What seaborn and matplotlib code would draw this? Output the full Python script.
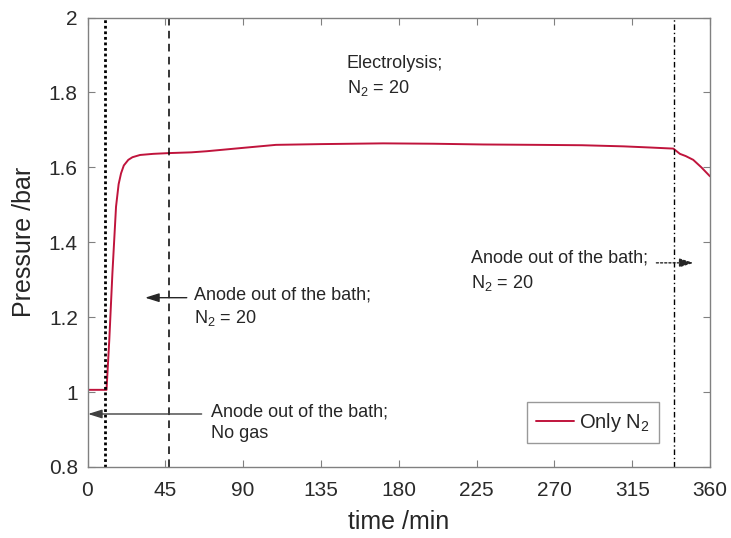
import matplotlib
matplotlib.use("Agg")
import matplotlib.pyplot as plt
import seaborn as sns
import pandas as pd
from matplotlib.ticker import FuncFormatter

# Pressure record of the cell (time in minutes, pressure in bar)
time_min = [0, 10.1, 11.0, 12.6, 14.4, 16.5, 18.0, 19.4, 21.0, 23.6, 26.0,
            30.4, 38, 47, 60, 69, 90, 109, 135, 171, 200, 229, 260, 286, 310,
            325, 338.8, 342.6, 346, 350.3, 355, 360]
pressure_bar = [1.006, 1.006, 1.006, 1.139, 1.317, 1.495, 1.555, 1.584, 1.605,
                1.620, 1.627, 1.633, 1.636, 1.638, 1.640, 1.643, 1.652, 1.660,
                1.662, 1.664, 1.663, 1.661, 1.660, 1.659, 1.656, 1.653, 1.650,
                1.636, 1.630, 1.620, 1.600, 1.576]
series_label = "Only N$_2$"

# Event markers (minutes)
gas_off_time = 10
anode_out_time = 47
anode_out2_time = 339

x_ticks = [0, 45, 90, 135, 180, 225, 270, 315, 360]
y_ticks = [0.8, 1.0, 1.2, 1.4, 1.6, 1.8, 2.0]

sns.set_theme(style="white")
plt.rcParams["font.family"] = ["Liberation Sans", "DejaVu Sans"]
plt.rcParams["mathtext.fontset"] = "custom"
plt.rcParams["mathtext.rm"] = "Liberation Sans"
plt.rcParams["mathtext.it"] = "Liberation Sans:italic"
plt.rcParams["mathtext.default"] = "regular"

df = pd.DataFrame({"time": time_min, "pressure": pressure_bar})

fig = plt.figure(figsize=(7.31, 5.38), dpi=100)
ax = fig.add_axes([87.5 / 731, (538 - 467) / 538, 622.5 / 731, (467 - 17.5) / 538])

sns.lineplot(data=df, x="time", y="pressure", ax=ax, color="#C0143C",
             linewidth=1.4, label=series_label)

ax.axvline(gas_off_time, color="black", linestyle=(0, (1, 1)), linewidth=2.0)
ax.axvline(anode_out_time, color="black", linestyle=(0, (5, 3.5)), linewidth=1.1)
ax.axvline(anode_out2_time, color="black", linestyle=(0, (4, 2, 1, 2)), linewidth=1.0)

ax.set_xlim(0, 360)
ax.set_ylim(0.8, 2.0)
ax.set_xticks(x_ticks)
ax.set_yticks(y_ticks)
ax.yaxis.set_major_formatter(FuncFormatter(lambda v, _: f"{v:g}"))
ax.tick_params(direction="in", length=5, width=0.8, color="#808080",
               labelsize=15, labelcolor="#2a2a2a", top=True, right=True,
               left=True, bottom=True)
ax.tick_params(axis="x", pad=10)
ax.tick_params(axis="y", pad=7)
for sp in ax.spines.values():
    sp.set_color("#808080")
    sp.set_linewidth(1.0)

ax.set_xlabel("time /min", fontsize=18, color="#262626", labelpad=7)
ax.set_ylabel("Pressure /bar", fontsize=18, color="#262626", labelpad=9)

txt = dict(fontsize=13, color="#262626", va="center", ha="left")

# Annotations
ax.text(149.9, 1.878, "Electrolysis;", **txt)
ax.text(149.9, 1.811, "N$_2$ = 20", **txt)

ax.annotate("", xy=(33.3, 1.252), xytext=(57.4, 1.252),
            arrowprops=dict(arrowstyle="-|>,head_length=0.7,head_width=0.22",
                            color="#262626", lw=1.0, shrinkA=0, shrinkB=0))
ax.text(61.8, 1.259, "Anode out of the bath;", **txt)
ax.text(61.8, 1.198, "N$_2$ = 20", **txt)

ax.annotate("", xy=(0.3, 0.9415), xytext=(66.0, 0.9415),
            arrowprops=dict(arrowstyle="-|>,head_length=0.7,head_width=0.22",
                            color="#404040", lw=1.0, shrinkA=0, shrinkB=0))
ax.text(71.2, 0.948, "Anode out of the bath;", **txt)
ax.text(71.2, 0.890, "No gas", **txt)

ax.annotate("", xy=(350.5, 1.345), xytext=(329.0, 1.345),
            arrowprops=dict(arrowstyle="-|>,head_length=0.7,head_width=0.22",
                            color="#262626", lw=1.0, linestyle=(0, (1.5, 1.5)),
                            shrinkA=0, shrinkB=0))
ax.text(221.6, 1.357, "Anode out of the bath;", **txt)
ax.text(221.6, 1.292, "N$_2$ = 20", **txt)

leg = ax.legend(loc="lower right", bbox_to_anchor=(0.918, 0.053), fontsize=14.5,
                frameon=True, fancybox=False, handlelength=1.9,
                handletextpad=0.25, borderpad=0.45, borderaxespad=0)
leg.get_frame().set_edgecolor("#808080")
leg.get_frame().set_linewidth(1.0)
for t in leg.get_texts():
    t.set_color("#262626")

fig.savefig("out.png", dpi=100)
